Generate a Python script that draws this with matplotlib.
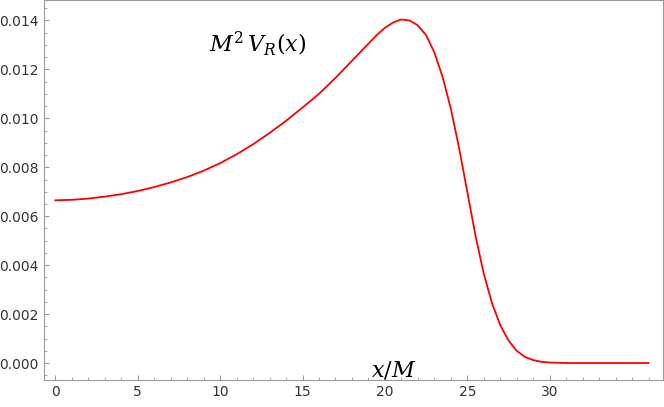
import matplotlib
matplotlib.use('Agg')
import matplotlib.pyplot as plt

plt.rcParams['mathtext.fontset'] = 'dejavuserif'

# values
x_vals = [0, 1, 2, 3, 4, 5, 6, 7, 8, 9, 10, 11, 12, 13, 14, 15, 16, 17, 18, 18.5, 19,
          19.5, 20, 20.5, 21, 21.5, 22, 22.5, 23, 23.5, 24, 24.5, 25, 25.5, 26,
          26.5, 27, 27.5, 28, 28.5, 29, 29.5, 30, 31, 32, 33, 34, 35, 36]
v_vals = [0.00665, 0.00667, 0.00672, 0.00680, 0.00690, 0.00703, 0.00719, 0.00738,
          0.00760, 0.00786, 0.00817, 0.00853, 0.00894, 0.00940, 0.00990, 0.01044,
          0.01100, 0.01165, 0.01235, 0.01270, 0.01305, 0.01340, 0.01370, 0.01392,
          0.01404, 0.01400, 0.01380, 0.01340, 0.01270, 0.01170, 0.01040, 0.00880,
          0.00700, 0.00520, 0.00365, 0.00245, 0.00155, 0.00092, 0.00050, 0.00025,
          0.00012, 0.00005, 0.00002, 0.0, 0.0, 0.0, 0.0, 0.0, 0.0]

fig = plt.figure(figsize=(6.64, 4.07), dpi=100)
ax = fig.add_axes([0.066, 0.066, 0.933, 0.933])
ax.plot(x_vals, v_vals, color='#ff0000', lw=1.3)
ax.set_xlim(-0.7, 36.9)
ax.set_ylim(-0.0007, 0.01482)
ax.set_xticks([0, 5, 10, 15, 20, 25, 30])
ax.set_yticks([0.000, 0.002, 0.004, 0.006, 0.008, 0.010, 0.012, 0.014])
ax.set_yticklabels(['%.3f' % t for t in ax.get_yticks()])
ax.minorticks_on()
for s in ax.spines.values():
    s.set_color('#999999')
ax.tick_params(colors='#999999', labelcolor='#333333', labelsize=10, direction='in')
ax.tick_params(which='minor', colors='#999999', direction='in')

ax.text(0.345, 0.885, r'$M^2\,V_R(x)$', transform=ax.transAxes, fontsize=16,
        ha='center', va='center')
ax.text(0.565, 0.028, r'$x/M$', transform=ax.transAxes, fontsize=16,
        ha='center', va='center')

fig.savefig('out.png', dpi=100)
